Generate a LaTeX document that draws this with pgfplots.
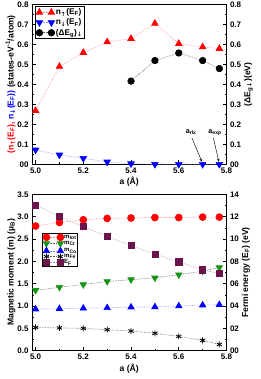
\documentclass[border=0pt]{standalone}
\usepackage{pgfplots}
\pgfplotsset{compat=1.18}
\usepackage{fontspec}
\setmainfont{Liberation Sans}
\newfontfamily\dv{DejaVu Sans}
\usetikzlibrary{arrows.meta}
\definecolor{myred}{RGB}{255,0,0}
\definecolor{myblue}{RGB}{0,0,255}
\definecolor{mygreen}{RGB}{20,150,20}
\definecolor{mypurple}{RGB}{105,20,75}
\newcommand{\ua}{\textsubscript{{\dv\bfseries ↑}}}
\newcommand{\da}{\textsubscript{{\dv\bfseries ↓}}}
\pgfplotsset{
  every axis/.append style={
    scale only axis, width=194.5pt,
    xmin=4.985, xmax=5.8,
    tick style={black, line width=0.6pt},
    major tick length=4pt, minor tick length=2pt,
    tick align=inside,
    ticklabel style={font=\fontsize{8}{9}\selectfont\bfseries},
    label style={font=\fontsize{8.6}{9.5}\selectfont\bfseries},
    axis line style={line width=0.8pt},
    every axis plot/.append style={densely dotted, line width=0.6pt},
  },
}
\begin{document}
\begin{tikzpicture}
\path[use as bounding box] (-32pt,-214.7pt) rectangle (229pt,164.3pt);
% ---------------- top panel ----------------
\begin{axis}[
  at={(0,0)}, anchor=south west, height=159.6pt,
  ymin=0, ymax=0.8,
  xtick={5.0,5.2,5.4,5.6,5.8}, xticklabels={5.0,5.2,5.4,5.6,5.8},
  minor xtick={5.1,5.3,5.5,5.7},
  ytick={0,0.1,0.2,0.3,0.4,0.5,0.6,0.7,0.8},
  yticklabels={00,0.1,0.2,0.3,0.4,0.5,0.6,0.7,0.8},
  minor ytick={0.05,0.15,0.25,0.35,0.45,0.55,0.65,0.75},
  xtick pos=bottom, ytick pos=left,
  xlabel={a (Å)},
  ylabel={\textcolor{myred}{(n\ua(E\textsubscript{F}),} \textcolor{myblue}{n\da(E\textsubscript{F}))} (states-eV\textsuperscript{-1}/atom)},
  ylabel shift=-5pt, xlabel shift=-3pt,
  legend image code/.code={\draw[#1] plot coordinates {(0pt,0pt) (12pt,0pt)};},
  legend style={at={(rel axis cs:0.014,0.992)}, anchor=north west,
    draw=black, line width=0.8pt, inner sep=1pt,
    font=\fontsize{8.3}{9}\selectfont\bfseries, row sep=0.3pt,
    nodes={inner sep=1.2pt}},
  legend cell align=left,
]
\addplot[color=myred!45, mark=triangle*, mark size=3.8pt,
  mark options={solid, fill=myred, draw=myred}] coordinates {
  (5.0,0.269) (5.1,0.49) (5.2,0.56) (5.3,0.613) (5.4,0.63)
  (5.5,0.706) (5.6,0.605) (5.7,0.588) (5.77,0.58)};
\addlegendentry{n\ua(E\textsubscript{F})}
\addplot[color=myblue!45, mark=triangle*, mark size=3.8pt,
  mark options={solid, rotate=180, fill=myblue, draw=myblue}] coordinates {
  (5.0,0.072) (5.1,0.047) (5.2,0.03) (5.3,0.012) (5.4,0.003)
  (5.5,0.0) (5.6,0.0) (5.7,0.0) (5.77,0.0)};
\addlegendentry{n\da(E\textsubscript{F})}
\addlegendimage{color=black!60, mark=*, mark size=3.3pt,
  mark options={solid, fill=black, draw=black}}
\addlegendentry{(ΔE\textsubscript{g})\da}
\node[font=\fontsize{7.2}{8}\selectfont\bfseries] at (axis cs:5.652,0.16) {a\textsubscript{rlx}};
\node[font=\fontsize{7.2}{8}\selectfont\bfseries] at (axis cs:5.752,0.16) {a\textsubscript{exp}};
\draw[-{Stealth[length=3pt,width=2.4pt]}, line width=0.45pt] (axis cs:5.655,0.132) -- (axis cs:5.697,0.013);
\draw[-{Stealth[length=3pt,width=2.4pt]}, line width=0.45pt] (axis cs:5.745,0.132) -- (axis cs:5.768,0.013);
\end{axis}
\begin{axis}[
  at={(0,0)}, anchor=south west, height=159.6pt,
  ymin=0, ymax=0.8,
  axis x line=none, axis y line*=right,
  ytick={0,0.1,0.2,0.3,0.4,0.5,0.6,0.7,0.8},
  yticklabels={00,0.1,0.2,0.3,0.4,0.5,0.6,0.7,0.8},
  minor ytick={0.05,0.15,0.25,0.35,0.45,0.55,0.65,0.75},
  ylabel={(ΔE\textsubscript{g\,{\dv\bfseries ↓}})(eV)},
  ylabel shift=-4pt,
]
\addplot[color=black!60, mark=*, mark size=3.3pt,
  mark options={solid, fill=black, draw=black}] coordinates {
  (5.4,0.417) (5.5,0.52) (5.6,0.558) (5.7,0.52) (5.77,0.48)};
\end{axis}
% ---------------- bottom panel ----------------
\begin{axis}[
  at={(0,-30pt)}, anchor=north west, height=156.4pt,
  ymin=0, ymax=3.5,
  xtick={5.0,5.2,5.4,5.6,5.8}, xticklabels={5.0,5.2,5.4,5.6,5.8},
  minor xtick={5.1,5.3,5.5,5.7},
  ytick={0,0.5,1.0,1.5,2.0,2.5,3.0,3.5},
  yticklabels={0.0,0.5,1.0,1.5,2.0,2.5,3.0,3.5},
  minor ytick={0.25,0.75,1.25,1.75,2.25,2.75,3.25},
  xtick pos=bottom, ytick pos=left,
  xlabel={a (Å)},
  ylabel={Magnetic moment (m) (\textmu\textsubscript{B})},
  ylabel shift=-5pt, xlabel shift=-3pt,
  legend image code/.code={\draw[#1] plot coordinates {(0pt,0pt) (14pt,0pt)};},
  legend style={at={(rel axis cs:0.05,0.755)}, anchor=north west,
    draw=black, line width=0.8pt, inner sep=0.8pt,
    font=\fontsize{6}{6.5}\selectfont\bfseries, row sep=0pt,
    nodes={inner sep=0.3pt}},
  legend cell align=left,
]
\addplot[color=myred!50, mark=*, mark size=3.5pt,
  mark options={solid, fill=myred, draw=myred}] coordinates {
  (5.0,2.79) (5.1,2.87) (5.2,2.93) (5.3,2.96) (5.4,2.97)
  (5.5,2.98) (5.6,2.98) (5.7,2.99) (5.77,2.99)};
\addlegendentry{m\textsubscript{tot}}
\addplot[color=black!65, mark=triangle*, mark size=3.7pt,
  mark options={solid, rotate=180, fill=mygreen, draw=mygreen}] coordinates {
  (5.0,1.35) (5.1,1.42) (5.2,1.48) (5.3,1.55) (5.4,1.59)
  (5.5,1.63) (5.6,1.70) (5.7,1.78) (5.77,1.86)};
\addlegendentry{m\textsubscript{Cr}}
\addplot[color=myblue!45, mark=triangle*, mark size=3.7pt,
  mark options={solid, fill=myblue, draw=myblue}] coordinates {
  (5.0,0.93) (5.1,0.94) (5.2,0.95) (5.3,0.96) (5.4,0.975)
  (5.5,0.98) (5.6,1.00) (5.7,1.02) (5.77,1.03)};
\addlegendentry{m\textsubscript{Co}}
\addplot[color=black!65, mark=asterisk, mark size=3pt,
  mark options={solid, draw=black, line width=0.8pt}] coordinates {
  (5.0,0.52) (5.1,0.51) (5.2,0.50) (5.3,0.47) (5.4,0.44)
  (5.5,0.39) (5.6,0.32) (5.7,0.23) (5.77,0.14)};
\addlegendentry{m\textsubscript{Fe}}
\addlegendimage{color=mypurple!50, mark=square*, mark size=3.1pt,
  mark options={solid, fill=mypurple, draw=mypurple}}
\addlegendentry{E\textsubscript{F}}
\end{axis}
\begin{axis}[
  at={(0,-30pt)}, anchor=north west, height=156.4pt,
  ymin=0, ymax=14,
  axis x line=none, axis y line*=right,
  ytick={0,2,4,6,8,10,12,14},
  yticklabels={00,02,04,06,08,10,12,14},
  minor ytick={1,3,5,7,9,11,13},
  ylabel={Fermi energy (E\textsubscript{F}) (eV)},
  ylabel shift=-4pt,
]
\addplot[color=mypurple!50, mark=square*, mark size=3.1pt,
  mark options={solid, fill=mypurple, draw=mypurple}] coordinates {
  (5.0,13.05) (5.1,12.0) (5.2,11.1) (5.3,10.23) (5.4,9.42)
  (5.5,8.65) (5.6,7.95) (5.7,7.24) (5.77,6.9)};
\end{axis}
\end{tikzpicture}
\end{document}
